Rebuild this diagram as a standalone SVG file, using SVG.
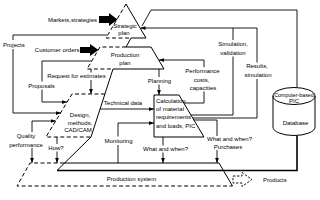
<svg xmlns="http://www.w3.org/2000/svg" width="320" height="200" viewBox="0 0 320 200">
<style>
.s{fill:none;stroke:#000;stroke-width:1}
.d{fill:none;stroke:#000;stroke-width:1;stroke-dasharray:4 2.5}
.c{fill:none;stroke:#000;stroke-width:0.9}
.blk{fill:#000;stroke:none}
text{font-family:"Liberation Sans",Arial,sans-serif;font-size:6px;fill:#000}
.m{text-anchor:middle}
.e{text-anchor:end}
</style>
<defs>
<marker id="ah" viewBox="0 0 8 6" refX="8" refY="3" markerWidth="5" markerHeight="4" orient="auto" markerUnits="userSpaceOnUse"><path d="M0,0 L8,3 L0,6 z" fill="#000"/></marker>
</defs>
<rect width="320" height="200" fill="#fff"/>

<g id="strategic-plan">
<path class="d" d="M126,4 L106,38 L131,38"/>
<path class="s" d="M131,38 L146,38 L126,4"/>
<path class="blk" d="M99,16 L109,16 L109,13 L117.5,19.5 L109,26 L109,23 L99,23 Z"/>
<text class="e" x="97" y="22">Markets,strategies</text>
<text class="m" x="125" y="27.5">Strategic</text>
<text class="m" x="124" y="35">plan</text>
</g>

<g id="production-plan">
<path class="d" d="M126,47 L100,47 L87,69 L113,69"/>
<path class="s" d="M126,47 L151,47 L164,69 L113,69"/>
<path class="s" d="M131,38 L126,47"/>
<path class="blk" d="M80,47 L90,47 L90,44 L98.5,50 L90,56 L90,53 L80,53 Z"/>
<text class="e" x="79.5" y="52">Customer orders</text>
<text class="m" x="125" y="57">Production</text>
<text class="m" x="125" y="65">plan</text>
</g>

<g id="design">
<path class="d" d="M105,94 L72,94 L46,137 L91,137"/>
<path class="s" d="M113,69 L91,137 L57,170.5"/>
<text class="m" x="80" y="117">Design,</text>
<text class="m" x="80" y="124.5">methods,</text>
<text class="m" x="78" y="132">CAD/CAM</text>
</g>

<g id="calculation">
<path class="s" d="M154,95 L179,95 L204,137 L154,137 Z"/>
<text x="156" y="103">Calculation</text>
<text x="156" y="111">of material</text>
<text x="156" y="119">requirements</text>
<text x="156" y="127.5">and loads, PIC</text>
</g>

<g id="production-system">
<path class="d" d="M64,163 L30,163 L17,186 L232.5,186"/>
<path class="s" d="M64,163 L219,163 L232.5,186"/>
<text class="m" x="131.5" y="181">Production system</text>
</g>

<g id="database">
<path class="s" d="M273,96 L273,127 A21,8.5 0 0 0 315,127 L315,96"/>
<ellipse class="s" cx="294" cy="96" rx="21" ry="8.5" fill="#fff"/>
<text class="m" x="294" y="96.5" style="font-size:5.3px">Computer-based</text>
<text class="m" x="294" y="103">PIC</text>
<text class="m" x="295.5" y="125">Database</text>
</g>

<g id="products">
<path class="c" style="stroke-dasharray:2.5 1.5" d="M233,176 L242,176 L242,172.5 L252,179.5 L242,186.5 L242,183 L233,183 Z"/>
<text x="263" y="182">Products</text>
</g>

<g id="connectors">
<path class="c" d="M107,35 L13,35 L13,40 M13,49 L13,113 L61,113" marker-end="url(#ah)"/>
<path class="c" d="M91.5,61 L42,61 L42,81.5 M42,89.5 L42,102 L67,102" marker-end="url(#ah)"/>
<path class="c" d="M91,69 L91,72.5 M91,80 L91,94" marker-end="url(#ah)"/>
<path class="c" d="M159,69 L159,77 M159,84.5 L159,95" marker-end="url(#ah)"/>
<path class="c" d="M184,103 L204,103 L204,91.5 M204,67 L204,60 L159,60" marker-end="url(#ah)"/>
<path class="c" d="M233,28 L233,40 M233,56.5 L233,115 L191,115"/>
<path class="c" d="M193,118 L257,118 L257,79 M257,62.5 L257,28 L140.5,28" marker-end="url(#ah)"/>
<path class="c" d="M297,87.6 L297,10 L151,10 L142,26"/>
<path class="s" style="stroke-width:1.6" d="M297,135.5 L297,170.5 L57,170.5"/>
<path class="c" d="M100,109 L154,109" marker-end="url(#ah)"/>
<path class="c" d="M118,163 L118,145 M118,136.5 L118,123 L154,123" marker-end="url(#ah)"/>
<path class="c" d="M163,137 L163,145.5 M163,152.5 L163,163" marker-end="url(#ah)"/>
<path class="c" d="M194,120 L217,120 L217,136 M217,150 L217,163" marker-end="url(#ah)"/>
<path class="c" d="M32,132 L32,121 L55.8,121" marker-end="url(#ah)"/>
<path class="c" d="M32,148 L32,163" marker-end="url(#ah)"/>
<path class="c" d="M57,137 L57,144 M57,151.5 L57,163" marker-end="url(#ah)"/>
</g>

<g id="labels">
<text x="3" y="47">Projects</text>
<text class="m" x="76.5" y="78">Request for estimates</text>
<text class="m" x="41.5" y="88">Proposals</text>
<text class="m" x="159.5" y="82.5">Planning</text>
<text class="m" x="202.5" y="73">Performance</text>
<text class="m" x="201.5" y="81.5">costs,</text>
<text class="m" x="203" y="90">capacities</text>
<text class="m" x="233" y="45.5">Simulation,</text>
<text class="m" x="233" y="54.5">validation</text>
<text class="m" x="257" y="68">Results,</text>
<text class="m" x="258" y="77">simulation</text>
<text class="m" x="123" y="105">Technical data</text>
<text class="m" x="118.5" y="143">Monitoring</text>
<text class="m" x="26" y="138">Quality</text>
<text class="m" x="26" y="146.5">performance</text>
<text class="m" x="56" y="150">How?</text>
<text class="m" x="165.5" y="151">What and when?</text>
<text class="m" x="229.5" y="141">What and when?</text>
<text class="m" x="228" y="148.5">Purchases</text>
</g>
</svg>
